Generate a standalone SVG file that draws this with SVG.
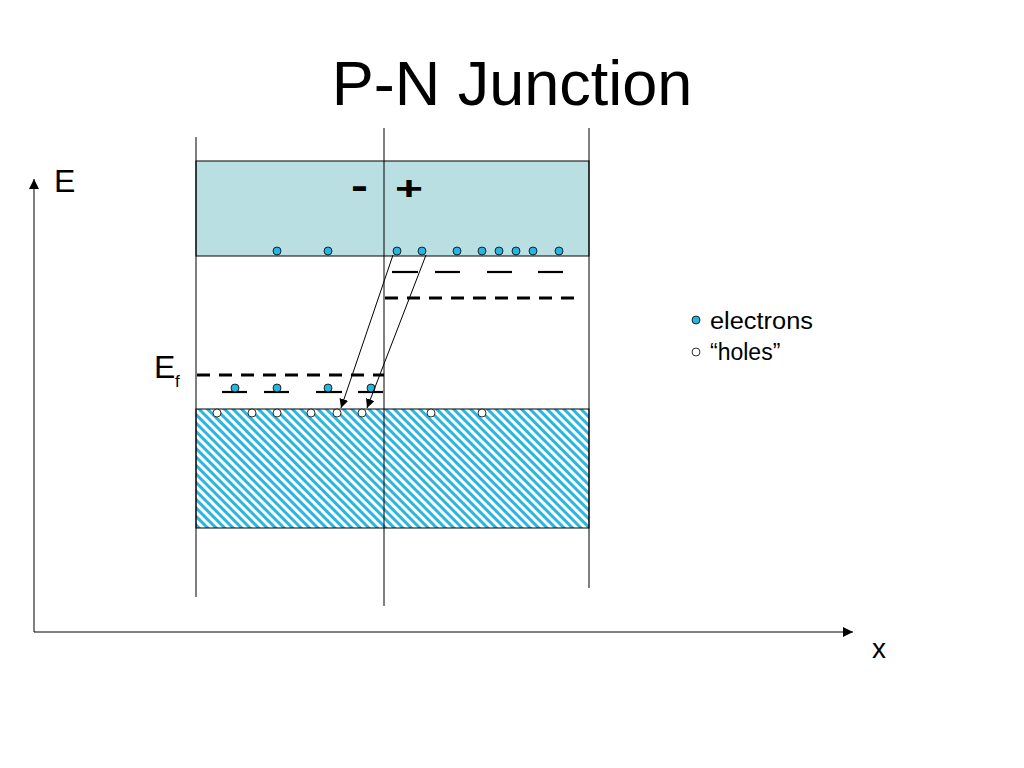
<svg xmlns="http://www.w3.org/2000/svg" width="1024" height="768" viewBox="0 0 1024 768">
<defs>
<pattern id="hatch" width="6" height="6" patternUnits="userSpaceOnUse" patternTransform="rotate(-45)">
<rect width="6" height="6" fill="#ffffff"/>
<rect width="3" height="6" fill="#2bb5df"/>
</pattern>
<marker id="arr" viewBox="0 0 10 10" refX="10" refY="5" markerWidth="9" markerHeight="9" markerUnits="userSpaceOnUse" orient="auto">
<path d="M0,0 L10,5 L0,10 z" fill="#000"/>
</marker>
<marker id="arrL" viewBox="0 0 10 10" refX="10" refY="5" markerWidth="10" markerHeight="10" markerUnits="userSpaceOnUse" orient="auto">
<path d="M0,0 L10,5 L0,10 z" fill="#000"/>
</marker>
</defs>
<style>
text{font-family:"Liberation Sans",Arial,sans-serif;fill:#000}
.thin{stroke:#000;stroke-width:1;fill:none}
.el{fill:#29b5e0;stroke:#000;stroke-width:0.8}
.ho{fill:#fff;stroke:#000;stroke-width:0.8}
.dash{stroke:#000;stroke-width:3;stroke-dasharray:13 9;fill:none}
.lvl{stroke:#000;stroke-width:2.2;fill:none}
</style>
<rect width="1024" height="768" fill="#fff"/>
<text x="512" y="105" font-size="63" text-anchor="middle">P-N Junction</text>

<g id="bands">
<rect x="196" y="161" width="393" height="95" fill="#b9dfe3" stroke="#000" stroke-width="1"/>
<rect x="196" y="409" width="393" height="119" fill="url(#hatch)" stroke="#000" stroke-width="1"/>
</g>
<g id="dividers">
<line class="thin" x1="196" y1="137" x2="196" y2="597"/>
<line class="thin" x1="384" y1="128" x2="384" y2="606"/>
<line class="thin" x1="589" y1="128" x2="589" y2="588"/>
</g>
<g id="signs">
<text x="351" y="199" font-size="40" font-weight="bold" textLength="17" lengthAdjust="spacingAndGlyphs">-</text>
<text x="395" y="200" font-size="34" font-weight="bold" textLength="28" lengthAdjust="spacingAndGlyphs">+</text>
</g>
<g id="levels">
<line class="dash" x1="385" y1="298" x2="582" y2="298"/>
<line class="dash" x1="197" y1="375" x2="384" y2="375"/>
<line class="lvl" x1="392" y1="272" x2="418" y2="272"/>
<line class="lvl" x1="435" y1="272" x2="460" y2="272"/>
<line class="lvl" x1="487" y1="272" x2="512" y2="272"/>
<line class="lvl" x1="538" y1="272" x2="563" y2="272"/>
<line class="lvl" x1="222" y1="392" x2="247" y2="392"/>
<line class="lvl" x1="264" y1="392" x2="289" y2="392"/>
<line class="lvl" x1="316" y1="392" x2="342" y2="392"/>
<line class="lvl" x1="358" y1="392" x2="383" y2="392"/>
</g>
<g id="electrons">
<circle class="el" cx="277" cy="251" r="4"/>
<circle class="el" cx="328" cy="251" r="4"/>
<circle class="el" cx="397" cy="251" r="4"/>
<circle class="el" cx="422" cy="251" r="4"/>
<circle class="el" cx="457" cy="251" r="4"/>
<circle class="el" cx="482" cy="251" r="4"/>
<circle class="el" cx="499" cy="251" r="4"/>
<circle class="el" cx="516" cy="251" r="4"/>
<circle class="el" cx="533" cy="251" r="4"/>
<circle class="el" cx="559" cy="251" r="4"/>
<circle class="el" cx="235" cy="388" r="4"/>
<circle class="el" cx="277" cy="388" r="4"/>
<circle class="el" cx="328" cy="388" r="4"/>
<circle class="el" cx="371" cy="388" r="4"/>
</g>
<g id="holes">
<circle class="ho" cx="217" cy="413" r="4"/>
<circle class="ho" cx="252" cy="413" r="4"/>
<circle class="ho" cx="277" cy="413" r="4"/>
<circle class="ho" cx="311" cy="413" r="4"/>
<circle class="ho" cx="337" cy="413" r="4"/>
<circle class="ho" cx="362" cy="413" r="4"/>
<circle class="ho" cx="431" cy="413" r="4"/>
<circle class="ho" cx="482" cy="413" r="4"/>
</g>
<g id="connectors">
<line class="thin" x1="393" y1="255" x2="341" y2="408" marker-end="url(#arr)"/>
<line class="thin" x1="426" y1="255" x2="367" y2="408" marker-end="url(#arr)"/>
<line class="thin" x1="34" y1="632" x2="34" y2="179" marker-end="url(#arrL)"/>
<line class="thin" x1="34" y1="632" x2="853" y2="632" marker-end="url(#arrL)"/>
</g>
<g id="labels">
<text x="54" y="192" font-size="32">E</text>
<text x="872" y="658" font-size="28">x</text>
<text x="154" y="378" font-size="32">E</text>
<text x="175" y="387" font-size="17">f</text>
</g>
<g id="legend">
<circle class="el" cx="696" cy="320" r="4"/>
<text x="710" y="329" font-size="23" textLength="103" lengthAdjust="spacingAndGlyphs">electrons</text>
<circle class="ho" cx="696" cy="352" r="4"/>
<text x="710" y="360" font-size="23">“holes”</text>
</g>
</svg>
